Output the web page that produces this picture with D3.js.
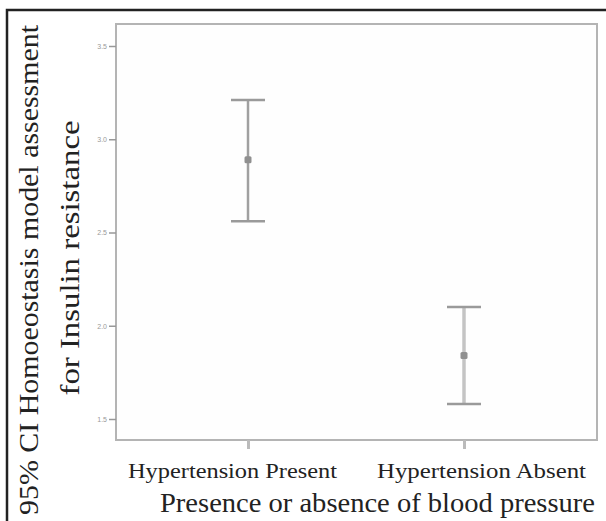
<!DOCTYPE html>
<html>
<head>
<meta charset="utf-8">
<script src="https://cdn.jsdelivr.net/npm/d3@7"></script>
<style>
  body { margin: 0; background: #fff; }
</style>
</head>
<body>
<div id="chart"></div>
<script>
const groups = ['Hypertension Present', 'Hypertension Absent']
const means = [2.89, 1.84]
const lowerCI = [2.56, 1.58]
const upperCI = [3.21, 2.10]
const yTicks = [1.5, 2.0, 2.5, 3.0, 3.5]

const width = 606
const height = 521
const serif = '"Palatino Linotype", "Book Antiqua", Palatino, "Liberation Serif", serif'

const svg = d3.select('#chart')
    .append('svg')
    .attr('width', width)
    .attr('height', height)

// outer figure border (open on right / bottom)
svg.append('path')
    .attr('d', `M7,${height} L7,10 L${width},10`)
    .attr('fill', 'none')
    .attr('stroke', '#222')
    .attr('stroke-width', 2.5)

const frame = { left: 116, top: 24, right: 597, bottom: 440 }

const y = d3.scaleLinear()
    .domain([1.5, 3.5])
    .range([419, 46])

const x = d3.scalePoint()
    .domain(groups)
    .range([248, 464])

svg.append('rect')
    .attr('x', frame.left)
    .attr('y', frame.top)
    .attr('width', frame.right - frame.left)
    .attr('height', frame.bottom - frame.top)
    .attr('fill', '#fefefe')
    .attr('stroke', '#b4b4b4')
    .attr('stroke-width', 2)

// y axis
const yAxis = svg.append('g')
    .attr('transform', `translate(${frame.left},0)`)
    .call(d3.axisLeft(y).tickValues(yTicks).tickFormat(d3.format('.1f')).tickSize(7).tickPadding(2))
yAxis.select('.domain').remove()
yAxis.selectAll('line').attr('stroke', '#999').attr('stroke-width', 1.5)
yAxis.selectAll('text')
    .attr('fill', '#999')
    .style('font-family', 'Arial, sans-serif')
    .style('font-size', '7px')

// x axis
const labelShift = [-16, 17]
const xAxis = svg.append('g')
    .attr('transform', `translate(0,${frame.bottom})`)
    .call(d3.axisBottom(x).tickSize(9).tickPadding(14))
xAxis.select('.domain').remove()
xAxis.selectAll('line').attr('stroke', '#bbb').attr('stroke-width', 3)
xAxis.selectAll('text')
    .attr('fill', '#222')
    .attr('dy', '0.71em')
    .attr('dx', (d, i) => labelShift[i])
    .style('font-family', serif)
    .style('font-size', '21px')
    .attr('textLength', 209)
    .attr('lengthAdjust', 'spacingAndGlyphs')

// error bars
const bars = svg.append('g')
    .selectAll('g')
    .data(groups)
    .join('g')

bars.append('line')
    .attr('x1', (d) => x(d))
    .attr('x2', (d) => x(d))
    .attr('y1', (d, i) => y(upperCI[i]))
    .attr('y2', (d, i) => y(lowerCI[i]))
    .attr('stroke', (d, i) => i == 0 ? '#a0a0a0' : '#c4c4c4')
    .attr('stroke-width', (d, i) => i == 0 ? 2.5 : 3.5)

const capW = 17
bars.selectAll('.cap')
    .data((d, i) => [{ g: d, v: upperCI[i] }, { g: d, v: lowerCI[i] }])
    .join('line')
    .attr('class', 'cap')
    .attr('x1', (d) => x(d.g) - capW)
    .attr('x2', (d) => x(d.g) + capW)
    .attr('y1', (d) => y(d.v))
    .attr('y2', (d) => y(d.v))
    .attr('stroke', '#9a9a9a')
    .attr('stroke-width', 2.5)

bars.append('rect')
    .attr('x', (d) => x(d) - 3.5)
    .attr('y', (d, i) => y(means[i]) - 3.5)
    .attr('width', 7)
    .attr('height', 7)
    .attr('rx', 1.5)
    .attr('fill', '#909090')

// axis titles
svg.append('text')
    .attr('x', 595)
    .attr('y', 512)
    .attr('text-anchor', 'end')
    .attr('fill', '#222')
    .style('font-family', serif)
    .style('font-size', '28px')
    .attr('textLength', 435)
    .attr('lengthAdjust', 'spacingAndGlyphs')
    .text('Presence or absence of blood pressure')

const yTitle = svg.append('g')
    .attr('transform', 'translate(0,270) rotate(-90)')

yTitle.append('text')
    .attr('x', 0)
    .attr('y', 38)
    .attr('text-anchor', 'middle')
    .attr('fill', '#222')
    .style('font-family', serif)
    .style('font-size', '28px')
    .attr('textLength', 490)
    .attr('lengthAdjust', 'spacingAndGlyphs')
    .text('95% CI Homoeostasis model assessment')

yTitle.append('text')
    .attr('x', 12)
    .attr('y', 79)
    .attr('text-anchor', 'middle')
    .attr('fill', '#222')
    .style('font-family', serif)
    .style('font-size', '28px')
    .attr('textLength', 275)
    .attr('lengthAdjust', 'spacingAndGlyphs')
    .text('for Insulin resistance')
</script>
</body>
</html>
